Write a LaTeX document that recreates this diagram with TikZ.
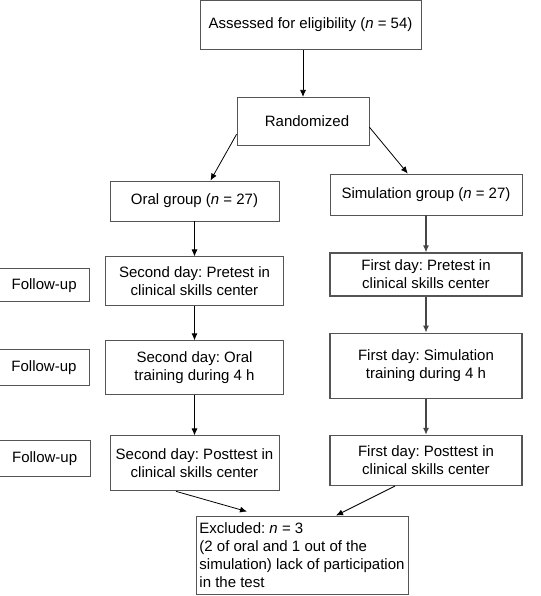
\documentclass[tikz,border=0pt]{standalone}
\usepackage{fontspec}
\setmainfont{Liberation Sans}
\usetikzlibrary{positioning,calc,arrows.meta}
\definecolor{boxgray}{RGB}{85,85,85}
\definecolor{arrgray}{RGB}{70,70,70}
\frenchspacing

\begin{document}
\begin{tikzpicture}[x=1pt, y=-1pt, node distance=30pt,
    box/.style={draw=boxgray, line width=0.9pt, rectangle, inner sep=0pt, align=center,
      font=\fontsize{15}{18}\selectfont},
    leftcol/.style={box, minimum width=178pt},
    rightcol/.style={box, minimum width=192pt, line width=1.2pt},
    followbox/.style={box, minimum width=91pt, minimum height=36pt},
    arr/.style={-{Latex[length=7pt,width=6pt]}, line width=0.8pt},
    arrr/.style={arr, draw=arrgray, line width=1.3pt}]
\useasboundingbox (0,0) rectangle (540,596);
				\node[box, minimum width=221pt, minimum height=49pt] (assess) at (310.5,25) {Assessed for eligibility (\emph{n} = 54)};
				\node[box, minimum width=132pt, minimum height=48pt, below=47pt of assess, xshift=-7.5pt] (random) {\hspace*{8pt}Randomized};
				\node[box, minimum width=169pt, minimum height=40pt] (oral) at (194.5,201) {Oral group (\emph{n} = 27)};
				\node[rightcol, line width=0.9pt, minimum height=41pt] (simul) at (426,194.5) {Simulation group (\emph{n} = 27)};
				% oral arm
				\node[leftcol, minimum height=49pt, below=35pt of oral] (oralpre) {Second day: Pretest in\\clinical skills center};
				\node[leftcol, minimum height=54pt, line width=1.1pt, below=34pt of oralpre] (oraltrain) {Second day: Oral\\training during 4 h};
				\node[box, minimum width=169pt, minimum height=55pt, below=40pt of oraltrain] (oralpost) {Second day: Posttest in\\clinical skills center};
				% simulation arm
				\node[rightcol, minimum height=43pt, below=37pt of simul] (simpre) {First day: Pretest in\\clinical skills center};
				\node[rightcol, minimum height=65pt, below=36pt of simpre] (simtrain) {First day: Simulation\\training during 4 h};
				\node[rightcol, minimum height=50pt, below=36pt of simtrain] (simpost) {First day: Posttest in\\clinical skills center};
				% follow-up
				\node[followbox, minimum height=33pt, left=15pt of oralpre, yshift=-4pt] (follow1) {Follow-up};
				\node[followbox, left=15pt of oraltrain] (follow2) {Follow-up};
				\node[followbox, left=19pt of oralpost, yshift=4.5pt] (follow3) {Follow-up};
				\node[box, minimum width=212pt, minimum height=78pt, align=left] (excl) at (302,555)
					{Excluded: \emph{n} = 3\\(2 of oral and 1 out of the\\simulation) lack of participation\\in the test};
				\draw[arr] (assess.south -| random.north) -- (random.north);
				\draw[arr] (random.191) -- (oral.52);
				\draw[arr] (random.-5) -- (simul.131);
				\draw[arr] (oral.south -| oralpre.north) -- (oralpre.north);
				\draw[arr] (oralpre.south) -- (oraltrain.north);
				\draw[arr] (oraltrain.south) -- (oralpost.north -| oraltrain.south);
				\draw[arrr] (simul.south) -- (simpre.north);
				\draw[arrr] (simpre.south) -- (simtrain.north);
				\draw[arrr] (simtrain.south) -- (simpost.north);
				\draw[arr] ($(oralpost.south)+(-18.5,0)$) -- ($(excl.north)+(-55,-4)$);
				\draw[arr] ($(simpost.south)+(-31,0)$) -- ($(excl.north)+(34,0)$);
\end{tikzpicture}
\end{document}
